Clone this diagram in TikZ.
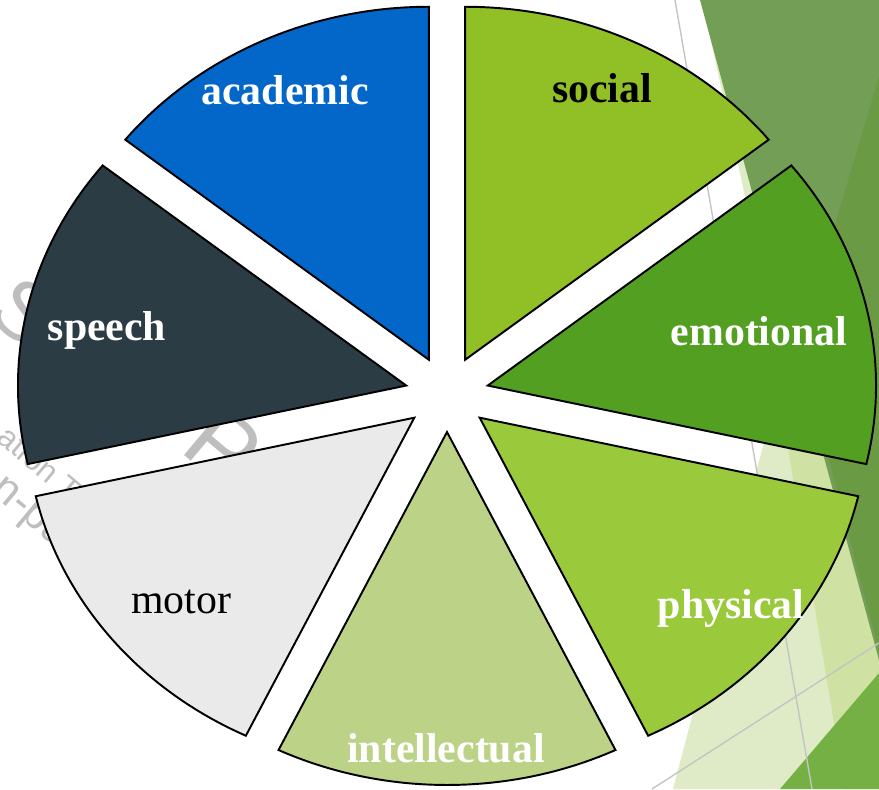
\documentclass[tikz,border=0pt]{standalone}
\usepackage{fontspec}
\setmainfont{Liberation Serif}
\setsansfont{Liberation Sans}
\usepackage{tikz}
\usetikzlibrary{calc}

\definecolor{acadblue}{HTML}{0366C9}
\definecolor{socialgreen}{HTML}{91C026}
\definecolor{emogreen}{HTML}{529F22}
\definecolor{physgreen}{HTML}{9BC93C}
\definecolor{intelgreen}{HTML}{BCD287}
\definecolor{motorgray}{HTML}{EAEAEA}
\definecolor{speechslate}{HTML}{2C3C44}
\definecolor{facetpale}{HTML}{DEEBC6}
\definecolor{facetmid}{HTML}{CFE2A3}
\definecolor{facetdark}{HTML}{739E55}
\definecolor{facetdeep}{HTML}{6A9A44}
\definecolor{facetbright}{HTML}{74B044}
\definecolor{guidegray}{HTML}{C4C4C4}
\definecolor{markgray}{HTML}{BEBEBE}

\begin{document}
\begin{tikzpicture}[
    x=0.02cm, y=0.02cm,
    slice/.style={draw=black, line width=1.1pt},
    lbl/.style={
      font=\fontsize{23.8}{28}\selectfont\bfseries,
      anchor=base, inner sep=0pt
    },
    guide/.style={draw=guidegray, line width=0.8pt},
    wmark/.style={text=markgray, rotate=-40, inner sep=0pt}
  ]

    \useasboundingbox (0,0) rectangle (879,789);
    \clip (0,0) rectangle (879,789);

    % ── Facet backdrop on the right ──
    \fill[facetpale] (702,789) -- (783,419) -- (673,0) -- (879,0)
      -- (879,789) -- cycle;
    \fill[facetmid] (770,449) -- (845,0) -- (879,0) -- (879,449) -- cycle;
    \fill[facetdark] (700,789) -- (879,789) -- (879,129) -- cycle;
    \fill[facetdeep] (879,712) -- (799,444) -- (879,139) -- cycle;
    \fill[facetbright] (780,0) -- (879,116) -- (879,0) -- cycle;

    \coordinate (g1a) at (675,789);
    \coordinate (g1b) at (812,0);
    \coordinate (g2a) at (652,0);
    \coordinate (g2b) at (879,146);
    \draw[guide] (g1a) -- (g1b);
    \draw[guide] (g2a) -- (g2b);

    % ── Watermark fragments ──
    \node[wmark, font=\sffamily\fontsize{47}{50}\selectfont] (wmS) at (24,478) {S};
    \node[wmark, font=\sffamily\fontsize{18}{20}\selectfont] (wmA) at (40,326) {ation T};
    \node[wmark, font=\sffamily\fontsize{25}{28}\selectfont] (wmB) at (28,274) {n-pa};
    \node[wmark, font=\sffamily\fontsize{54}{58}\selectfont] (wmP) at (224,343) {P};

    % ── Exploded pie, seven equal slices ──
    \begin{scope}[shift={(447,395)}, xscale=1.1]
      \foreach \col [count=\k from 0] in {acadblue, speechslate, motorgray,
          intelgreen, physgreen, emogreen, socialgreen} {
        \pgfmathsetmacro{\a}{90+\k*360/7}
        \pgfmathsetmacro{\b}{\a+360/7}
        \pgfmathsetmacro{\m}{\a+180/7}
        \draw[slice, fill=\col] (\m:38) -- +(\a:353)
          arc[start angle=\a, end angle=\b, radius=353] -- cycle;
      }
    \end{scope}

    % ── Slice labels ──
    \node[lbl, text=white] (academic) at (285,684) {academic};
    \node[lbl] (social) at (602,686) {social};
    \node[lbl, text=white] (emotional) at (759,444) {emotional};
    \node[lbl, text=white] (physical) at (731,171) {physical};
    \node[lbl, text=white] (intellectual) at (446,27) {intellectual};
    \node[lbl, font=\fontsize{23.8}{28}\selectfont] (motor) at (181,176) {motor};
    \node[lbl, text=white] (speech) at (107,449) {speech};

  \end{tikzpicture}
\end{document}
